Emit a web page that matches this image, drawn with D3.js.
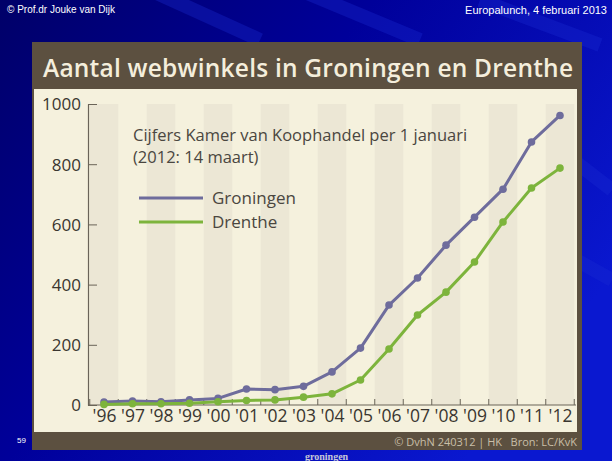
<!DOCTYPE html>
<html><head><meta charset="utf-8">
<script src="https://cdn.jsdelivr.net/npm/d3@7"></script>
<style>html,body{margin:0;padding:0;background:#000070;}svg{display:block;}</style>
</head><body>
<svg id="c" width="612" height="461"></svg>
<script>
const years = ["'96","'97","'98","'99","'00","'01","'02","'03","'04","'05","'06","'07","'08","'09","'10","'11","'12"];
const groningen = [10, 13, 11, 17, 22, 53, 51, 62, 110, 189, 332, 422, 531, 624, 717, 874, 962];
const drenthe   = [2, 4, 4, 6, 11, 15, 17, 26, 37, 83, 186, 299, 375, 475, 608, 721, 787];
const yTicks = [0, 200, 400, 600, 800, 1000];
const seriesNames = ["Groningen", "Drenthe"];
const seriesColors = ["#6e6c9c", "#7db43c"];

const svg = d3.select("#c");
const defs = svg.append("defs");
const bg = defs.append("linearGradient").attr("id","bg").attr("x1","0").attr("y1","0").attr("x2","1").attr("y2","0.6");
bg.append("stop").attr("offset","0").attr("stop-color","#000068");
bg.append("stop").attr("offset","0.45").attr("stop-color","#00009a");
bg.append("stop").attr("offset","1").attr("stop-color","#0a18d0");
svg.append("rect").attr("width",612).attr("height",461).attr("fill","url(#bg)");
[[150,-10,260,40],[300,-10,420,40],[480,0,600,45],[560,150,612,190],[540,240,612,280]].forEach(s=>{
  svg.append("line").attr("x1",s[0]).attr("y1",s[1]).attr("x2",s[2]).attr("y2",s[3])
    .attr("stroke","#1a2ad0").attr("stroke-opacity",0.35).attr("stroke-width",14);
});

svg.append("text").attr("x",7).attr("y",13).attr("fill","#fff").attr("font-family","Liberation Sans, Arial").attr("font-size",10).text("© Prof.dr Jouke van Dijk");
svg.append("text").attr("x",607).attr("y",14).attr("text-anchor","end").attr("fill","#fff").attr("font-family","Liberation Sans, Arial").attr("font-size",11).text("Europalunch, 4 februari 2013");
svg.append("text").attr("x",17).attr("y",443).attr("fill","#fff").attr("font-family","Liberation Sans, Arial").attr("font-size",8).text("59");
svg.append("text").attr("x",305).attr("y",460).attr("fill","#c8c8d8").attr("font-family","Liberation Serif, serif").attr("font-size",10).attr("font-weight","bold").text("groningen");

const P = {x:32, y:42, w:550, h:408};
svg.append("rect").attr("x",P.x).attr("y",P.y).attr("width",P.w).attr("height",P.h).attr("fill","#5c5040");
svg.append("rect").attr("x",P.x+2).attr("y",89).attr("width",P.w-7).attr("height",343).attr("fill","#f5f1dd");
svg.append("text").attr("x",43).attr("y",77).attr("fill","#f4eedc").attr("font-family","Open Sans, Lato, sans-serif")
  .attr("font-weight",600).attr("font-size",24.5).attr("textLength",530).text("Aantal webwinkels in Groningen en Drenthe");
svg.append("text").attr("x",577).attr("y",446).attr("text-anchor","end").attr("fill","#c9bfa8").attr("font-family","Open Sans, sans-serif")
  .attr("font-size",11).style("white-space","pre").text("© DvhN 240312 | HK   Bron: LC/KvK");

const idx = d3.range(years.length);
const x = d3.scaleLinear().domain([0, years.length-1]).range([104, 560]);
const y = d3.scaleLinear().domain([0, 1000]).range([405, 104]);
const step = x(1)-x(0);

svg.append("g").selectAll("rect").data(idx.filter(i=>i%2===0)).join("rect")
  .attr("x", i=>x(i)-step/2).attr("y", y(1000)).attr("width", step).attr("height", y(0)-y(1000))
  .attr("fill","#ece7d5");

const yAxis = d3.axisLeft(y).tickValues(yTicks).tickFormat(d3.format("d")).tickSizeInner(-9).tickSizeOuter(0).tickPadding(7);
const ya = svg.append("g").attr("transform","translate(88,0)").call(yAxis);
ya.select(".domain").attr("stroke","#6a6458").attr("stroke-width",1.2);
ya.selectAll(".tick line").attr("stroke","#6a6458");
ya.selectAll(".tick text").attr("fill","#3a3630").attr("font-family","Open Sans, sans-serif").attr("font-size",17).attr("dy","0.35em");

svg.append("line").attr("x1",88).attr("x2",576).attr("y1",y(0)).attr("y2",y(0)).attr("stroke","#6a6458").attr("stroke-width",1.2);
const bounds = d3.range(years.length+1).map(i=>i-0.5);
svg.selectAll("line.bt").data(bounds).join("line")
  .attr("x1",d=>x(d)).attr("x2",d=>x(d)).attr("y1",y(0)).attr("y2",y(0)-6).attr("stroke","#6a6458");
const xAxis = d3.axisBottom(x).tickValues(idx).tickFormat(i=>years[i]).tickSize(0).tickPadding(4);
const xa = svg.append("g").attr("transform",`translate(0,${y(0)})`).call(xAxis);
xa.select(".domain").remove();
xa.selectAll(".tick text").attr("fill","#3a3630").attr("font-family","Open Sans, sans-serif").attr("font-size",17.5).attr("dy","0.75em");

svg.append("text").attr("x",133).attr("y",141).attr("fill","#4a4640").attr("font-family","Open Sans, sans-serif").attr("font-size",16.5).text("Cijfers Kamer van Koophandel per 1 januari");
svg.append("text").attr("x",133).attr("y",163).attr("fill","#4a4640").attr("font-family","Open Sans, sans-serif").attr("font-size",16.5).text("(2012: 14 maart)");

seriesNames.forEach((n,k)=>{
  const ly = 198 + k*24;
  svg.append("line").attr("x1",139).attr("x2",203).attr("y1",ly).attr("y2",ly).attr("stroke",seriesColors[k]).attr("stroke-width",3);
  svg.append("text").attr("x",212).attr("y",ly+6).attr("fill","#4a4640").attr("font-family","Open Sans, sans-serif").attr("font-size",17).text(n);
});

const line = d3.line().x((d,i)=>x(i)).y(d=>y(d));
[groningen, drenthe].forEach((data,k)=>{
  svg.append("path").datum(data).attr("d",line).attr("fill","none").attr("stroke",seriesColors[k]).attr("stroke-width",3).attr("stroke-linejoin","round");
  svg.append("g").selectAll("circle").data(data).join("circle")
    .attr("cx",(d,i)=>x(i)).attr("cy",d=>y(d)).attr("r",3.8).attr("fill",seriesColors[k]);
});
</script>
</body></html>
